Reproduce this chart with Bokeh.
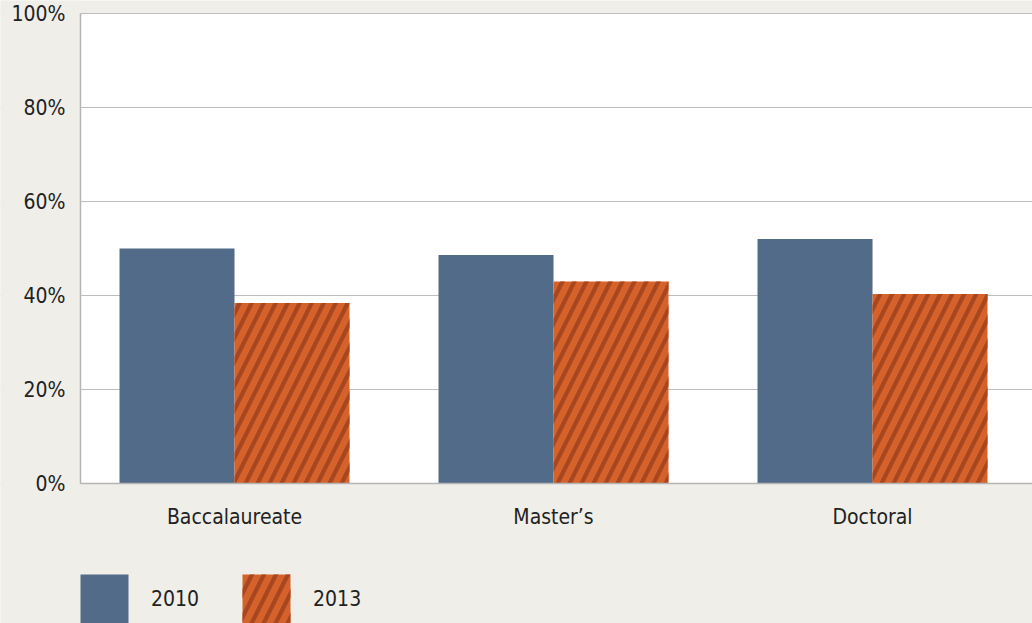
from bokeh.plotting import figure
from bokeh.models import ColumnDataSource, Range1d, FixedTicker, Legend, LegendItem, BoxAnnotation
from bokeh.transform import dodge
from bokeh.embed import file_html
from bokeh.resources import INLINE

categories = ["Baccalaureate", "Master\u2019s", "Doctoral"]
values_2010 = [50.0, 48.6, 52.0]
values_2013 = [38.4, 43.0, 40.3]
series_names = ["2010", "2013"]
y_ticks = [0, 20, 40, 60, 80, 100]
y_tick_labels = {t: f"{t}%" for t in y_ticks}

FONT = "'DejaVu Sans Condensed', 'DejaVu Sans', sans-serif"
BG = "#efeee8"
BLUE = "#526b89"
ORANGE = "#d4622a"
ORANGE_DARK = "#a8471f"
GRID = "#bdbdbd"
AXIS = "#b5b5b5"
TEXT = "#222222"

source = ColumnDataSource(dict(
    x=list(range(len(categories))),
    v2010=values_2010,
    v2013=values_2013,
))

# The frame covers the whole page: 319 px per category, 4.7 px per percent.
PX_X, PX_Y = 319.0, 4.7
x_left = -0.4828                       # data x at the left edge of the white plot area
x_start = x_left - 80 / PX_X
y_start = -(623 - 483) / PX_Y
y_end = 100 + 13 / PX_Y
bar_w = 0.3605

p = figure(width=1032, height=623, output_backend="svg", toolbar_location=None,
           x_range=Range1d(x_start, x_start + 1032 / PX_X), y_range=Range1d(y_start, y_end),
           min_border=0)
p.background_fill_color = BG
p.border_fill_color = BG
p.outline_line_color = None

# white plotting area (0-100%), beneath the grid lines
p.add_layout(BoxAnnotation(left=x_left, bottom=0, top=100, fill_color="white", fill_alpha=1,
                           line_color=None, level="image"))
# page-coloured margin left of the plotting area (hides grid lines there, under the axis labels)
p.add_layout(BoxAnnotation(right=x_left, fill_color=BG, fill_alpha=1, line_color=None, level="glyph"))

r1 = p.vbar(x=dodge("x", -bar_w / 2), top="v2010", width=bar_w, source=source,
            fill_color=BLUE, line_color=None)
r2 = p.vbar(x=dodge("x", bar_w / 2), top="v2013", width=bar_w, source=source,
            fill_color=ORANGE, line_color=None, hatch_pattern="/",
            hatch_color=ORANGE_DARK, hatch_scale=24, hatch_weight=4.2)

p.xaxis.ticker = FixedTicker(ticks=list(range(len(categories))))
p.xaxis.major_label_overrides = {i: c for i, c in enumerate(categories)}
p.xaxis.fixed_location = 0
p.xaxis.bounds = (x_left, x_start + 1032 / PX_X)
p.yaxis.ticker = FixedTicker(ticks=y_ticks)
p.yaxis.major_label_overrides = y_tick_labels
p.yaxis.fixed_location = x_left
p.yaxis.bounds = (0, 100)

for ax in (p.xaxis[0], p.yaxis[0]):
    ax.axis_line_color = AXIS
    ax.axis_line_width = 1.5
    ax.major_tick_line_color = None
    ax.minor_tick_line_color = None
    ax.major_tick_out = 0
    ax.major_tick_in = 0
    ax.minor_tick_out = 0
    ax.major_label_text_font = FONT
    ax.major_label_text_font_size = "21px"
    ax.major_label_text_color = TEXT

p.xaxis.major_label_standoff = 21
p.yaxis.major_label_standoff = 15
p.yaxis.major_label_text_baseline = "top"

p.xgrid.grid_line_color = None
p.ygrid.grid_line_color = GRID
p.ygrid.grid_line_width = 1.2

legend = Legend(items=[LegendItem(label=series_names[0], renderers=[r1]),
                       LegendItem(label=series_names[1], renderers=[r2])],
                location=(74, -6), orientation="horizontal",
                glyph_width=60, glyph_height=61, label_standoff=17, spacing=37,
                padding=0, margin=0, background_fill_alpha=0, border_line_color=None,
                label_text_font=FONT, label_text_font_size="21px", label_text_color=TEXT)
p.add_layout(legend, "center")

open("out.html", "w").write(file_html(p, INLINE))
